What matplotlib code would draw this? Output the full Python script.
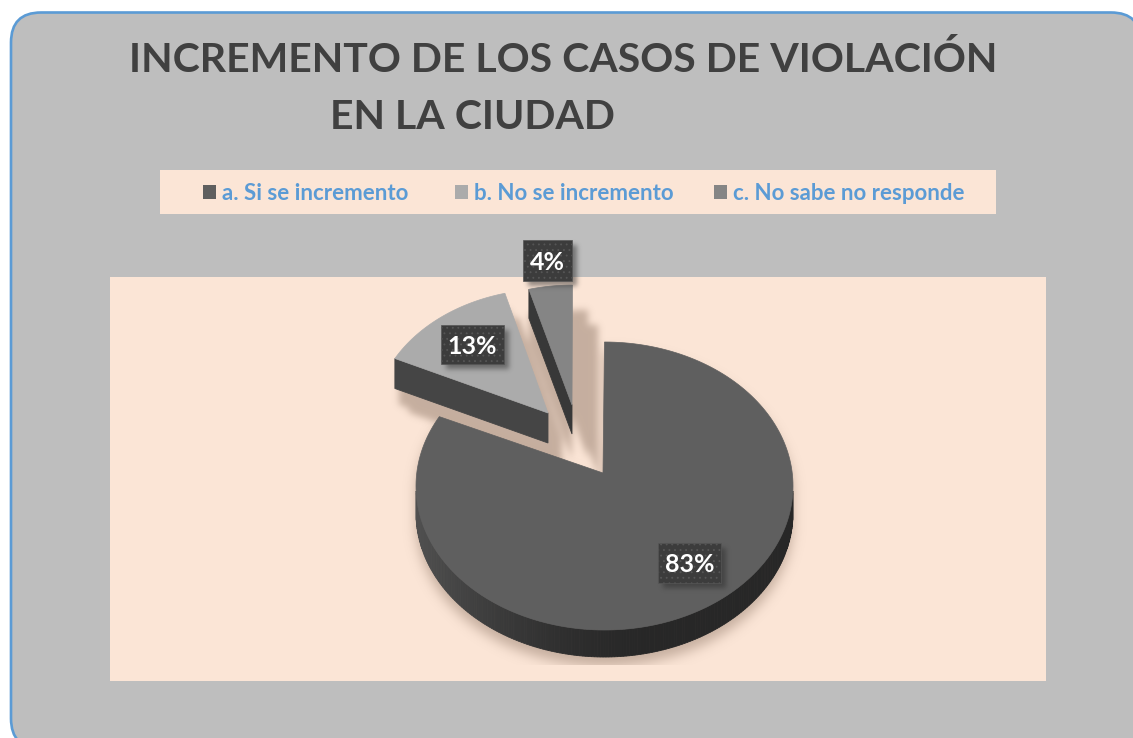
import numpy as np
import matplotlib
matplotlib.use("Agg")
import matplotlib.pyplot as plt
from matplotlib.colors import to_rgb
from matplotlib.patches import Rectangle, FancyBboxPatch, Polygon
from matplotlib.path import Path

title_lines = ["INCREMENTO DE LOS CASOS DE VIOLACIÓN", "EN LA CIUDAD"]
categories = ["a. Si se incremento", "b. No se incremento", "c. No sabe no responde"]
values = [83, 13, 4]
colors = ["#5f5f5f", "#ababab", "#858585"]

plt.rcParams['font.family'] = ['Lato', 'DejaVu Sans']
plt.rcParams['hatch.linewidth'] = 0.6
fig = plt.figure(figsize=(11.33, 7.38), dpi=100, facecolor="white")
ax = fig.add_axes([0, 0, 1, 1])
ax.set_xlim(0, 1133)
ax.set_ylim(738, 0)
ax.axis("off")

# panel
ax.add_patch(FancyBboxPatch((11, 12.5), 1130, 736, boxstyle="round,pad=0,rounding_size=30",
                            fc="#bebebe", ec="#5b9bd5", lw=1.9))
ax.add_patch(Rectangle((110, 277), 936, 404, fc="#fbe5d6", ec="none"))
ax.add_patch(Rectangle((160, 170), 836, 44, fc="#fbe5d6", ec="none"))

# title
ax.text(563, 60.5, title_lines[0], ha="center", va="center", fontsize=29.5,
        fontweight="bold", color="#404040")
ax.text(472, 117.5, title_lines[1], ha="center", va="center", fontsize=29.5,
        fontweight="bold", color="#404040")

# legend
leg_sq = [203, 455, 714]
leg_tx = [222, 474, 733]
for c, sx, tx, col in zip(categories, leg_sq, leg_tx, colors):
    ax.add_patch(Rectangle((sx, 185), 13, 14, fc=col, ec="none"))
    ax.text(tx, 193, c, ha="left", va="center", fontsize=16, fontweight="bold",
            color="#5b9bd5")

# pie geometry: slice angles come from the values (clockwise from the top)
frac = np.array(values, float) / sum(values)
edges = np.concatenate([[0], np.cumsum(frac)]) * 360.0
RX, RY = 188.5, 144.0
CENTER = (604.5, 486.0)
SCALE_X, SCALE_Y = 0.93, 0.93


def rim(cx, cy, sx, sy, a0, a1, n=200):
    t = np.radians(np.linspace(a0, a1, n))
    return cx + sx * RX * np.sin(t), cy - sy * RY * np.cos(t)


def blur(img, sigma):
    r = int(3 * sigma)
    k = np.exp(-0.5 * (np.arange(-r, r + 1) / sigma) ** 2)
    k /= k.sum()
    img = np.apply_along_axis(lambda m: np.convolve(m, k, mode="same"), 0, img)
    return np.apply_along_axis(lambda m: np.convolve(m, k, mode="same"), 1, img)


def soft_layer(polys, sigma, color, alpha, box, zorder):
    x0, y0, x1, y1 = box
    pad = int(3 * sigma) + 1
    xs, ys = np.meshgrid(np.arange(x0 - pad, x1 + pad) + 0.5, np.arange(y0 - pad, y1 + pad) + 0.5)
    grid = np.column_stack([xs.ravel(), ys.ravel()])
    m = np.zeros(xs.shape, bool)
    for p in polys:
        m |= Path(np.asarray(p)).contains_points(grid).reshape(xs.shape)
    a = blur(m.astype(float), sigma)[pad:-pad, pad:-pad]
    rgba = np.zeros(a.shape + (4,))
    rgba[..., :3] = to_rgb(color)
    rgba[..., 3] = a * alpha
    ax.imshow(rgba, extent=(x0, x1, y1, y0), zorder=zorder, aspect="auto", interpolation="bilinear")


def solid(pts, depth):
    """Outline of a slice together with its extruded copy."""
    pts = np.asarray(pts)
    return [pts, pts + [0, depth]] + [
        np.array([pts[i], pts[(i + 1) % len(pts)], pts[(i + 1) % len(pts)] + [0, depth], pts[i] + [0, depth]])
        for i in range(0, len(pts), 3)]


def wall(x, y, depth, cols, zorder):
    n = len(x) - 1
    for i in range(n):
        col = cols(i / max(n - 1, 1))
        quad = [(x[i], y[i]), (x[i + 1], y[i + 1]), (x[i + 1], y[i + 1] + depth), (x[i], y[i] + depth)]
        ax.add_patch(Polygon(quad, closed=True, fc=col, ec=col, lw=0.6, zorder=zorder, snap=False))


def main_wall_color(f):
    # lit on the left, dark from the middle to the right
    g = min(f / 0.6, 1.0)
    g = g * g * (3 - 2 * g)
    return tuple(np.array(to_rgb("#505050")) * (1 - g) + np.array(to_rgb("#272727")) * g)


# a: main slice
apex_a = (603, 473)
xa, ya = rim(*CENTER, 1, 1, edges[0], edges[1])
pts_a = np.column_stack([np.r_[apex_a[0], xa], np.r_[apex_a[1], ya]])
# b: exploded slice
apex_b = (548, 413)
xb, yb = rim(548.5, 423, SCALE_X, SCALE_Y, edges[1], edges[2], 60)
pts_b = np.column_stack([np.r_[apex_b[0], xb], np.r_[apex_b[1], yb]])
# c: exploded slice
apex_c = (572, 405)
xc, yc = rim(572.5, 419, SCALE_X, SCALE_Y, edges[2], edges[3], 30)
pts_c = np.column_stack([np.r_[apex_c[0], xc], np.r_[apex_c[1], yc]])

# shadows on the plot area
area = (110, 277, 1046, 665)
soft_layer(solid(pts_a + [0, 9], 27), 6, "#9a8272", 0.55, area, 2)
soft_polys = []
for d in ([4, 16], [14, 24]):
    soft_polys += solid(pts_b + d, 30)
for d in ([0, 25], [16, 25], [26, 40]):
    soft_polys += solid(pts_c + d, 29)
soft_layer(soft_polys, 3.5, "#9a8272", 0.55, (380, 277, 640, 520), 2)

# main wall: the front half of the rim
xf, yf = rim(*CENTER, 1, 1, 268, 92)
wall(xf, yf, 27, main_wall_color, 3)
ax.add_patch(Polygon(pts_a, closed=True, fc=colors[0], ec=colors[0], lw=0.5, zorder=4))

# slice b: radial wall, then top
wall([xb[0], apex_b[0]], [yb[0], apex_b[1]], 30, lambda f: "#454545", 5)
ax.add_patch(Polygon(pts_b, closed=True, fc=colors[1], ec=colors[1], lw=0.5, zorder=6))

# slice c: radial wall, then top
wall([xc[0], apex_c[0]], [yc[0], apex_c[1]], 29, lambda f: "#383838", 5)
ax.add_patch(Polygon(pts_c, closed=True, fc=colors[2], ec=colors[2], lw=0.5, zorder=6))

# data labels
boxes = [(658, 543, 63, 40), (441, 325, 63, 39), (523, 240, 49, 41)]
for v, (bx, by, bw, bh) in zip(values, boxes):
    soft_layer([[(bx + 5, by + 5), (bx + bw + 5, by + 5), (bx + bw + 5, by + bh + 5), (bx + 5, by + bh + 5)]],
               2.5, "#2a2a2a", 0.5, (bx - 8, by - 8, bx + bw + 16, by + bh + 16), 7)
    ax.add_patch(Rectangle((bx, by), bw, bh, fc="#3c3c3c", ec="#565656", lw=0.5,
                           hatch="...", zorder=8))
    ax.text(bx + bw / 2, by + bh / 2 + 1.5, f"{v}%", ha="center", va="center", fontsize=18,
            fontweight="bold", color="white", zorder=9)

ax.set_xlim(0, 1133)
ax.set_ylim(738, 0)
fig.savefig("out.png", dpi=100, facecolor="white")
